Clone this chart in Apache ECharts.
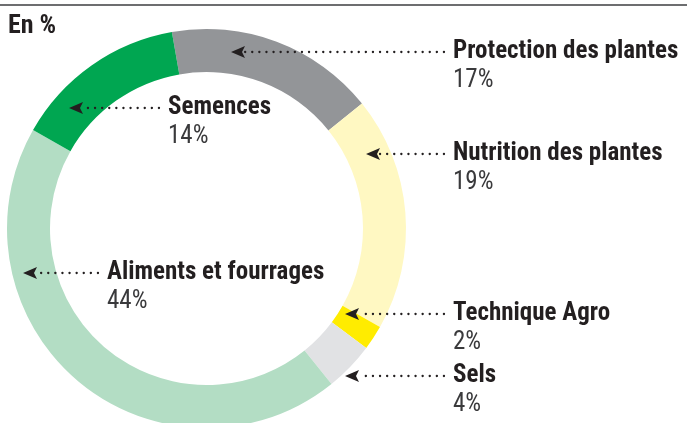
<!DOCTYPE html>
<html><head><meta charset="utf-8">
<script src="https://cdn.jsdelivr.net/npm/echarts@6/dist/echarts.min.js"></script>
<style>html,body{margin:0;padding:0;background:#fff}#c{width:687px;height:423px}</style>
</head><body><div id="c"></div>
<script>
const categories = ['Protection des plantes','Nutrition des plantes','Technique Agro','Sels','Aliments et fourrages','Semences'];
const values = [17, 19, 2, 4, 44, 14];
const colors = ['#939598','#fff8c2','#ffec00','#e1e2e4','#b3ddc4','#00a651'];
// annotation layout: [textLeft, textCenterY, arrowTipX, lineStartX]
const layout = [
  [453, 52, 231, 444],
  [453, 154, 366, 444],
  [453, 314, 345, 444],
  [453, 376, 345, 444],
  [107, 273, 23, 98],
  [168, 108, 69, 159]
];
const FB = '"Liberation Sans Narrow","Roboto Condensed","DejaVu Sans Condensed",sans-serif';
const chart = echarts.init(document.getElementById('c'), null, {renderer:'canvas'});
const graphics = [
  {type:'rect', z:100, shape:{x:0,y:4,width:687,height:2}, style:{fill:'#6d6e70'}},
  {type:'text', z:100, x:8, y:26, style:{text:'En %', font:'bold 26px '+FB, fill:'#231f20', textVerticalAlign:'middle'}}
];
categories.forEach((name,i)=>{
  const [tx,ty,ax,lx]=layout[i];
  graphics.push({type:'line', z:100, shape:{x1:lx,y1:ty,x2:ax+14,y2:ty}, style:{stroke:'#231f20',lineWidth:2.3,lineDash:[0.1,7],lineCap:'round'}});
  graphics.push({type:'polygon', z:100, shape:{points:[[ax,ty],[ax+14,ty-6],[ax+11,ty],[ax+14,ty+6]]}, style:{fill:'#231f20'}});
  graphics.push({type:'text', z:100, x:tx, y:ty, style:{text:name, font:'bold 25px '+FB, fill:'#231f20', textVerticalAlign:'middle'}});
  graphics.push({type:'text', z:100, x:tx, y:ty+29, style:{text:values[i]+'%', font:'25px '+FB, fill:'#3a3a3c', textVerticalAlign:'middle'}});
});
chart.setOption({
  animation:false,
  color:colors,
  series:[{
    type:'pie', center:[206.5,228.5], radius:[156.5,199.5], startAngle:100, clockwise:true,
    silent:true, label:{show:false}, labelLine:{show:false},
    itemStyle:{borderWidth:0},
    data:categories.map((n,i)=>({name:n,value:values[i]}))
  }],
  graphic:graphics
});
</script></body></html>
